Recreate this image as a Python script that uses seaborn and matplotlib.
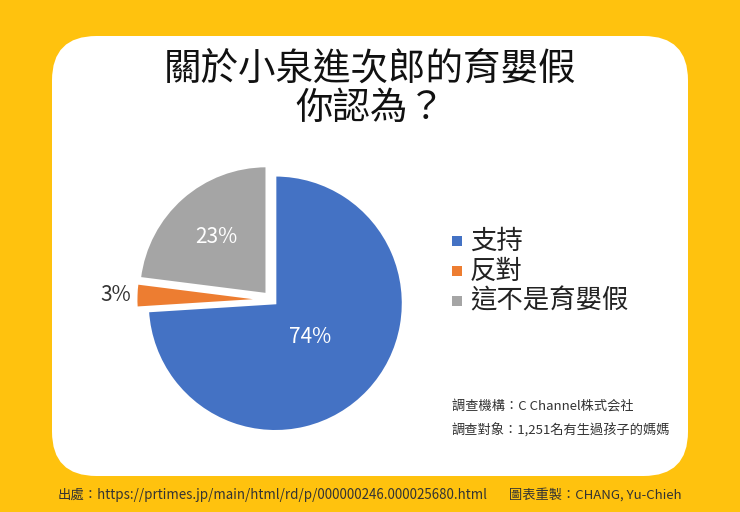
import matplotlib
matplotlib.use("Agg")
import matplotlib.pyplot as plt
import seaborn as sns
import numpy as np
from matplotlib.patches import FancyBboxPatch

sns.set_theme(style="white")
plt.rcParams['font.family'] = ['Noto Sans CJK TC', 'DejaVu Sans']

categories = ["支持", "反對", "這不是育嬰假"]
values = [74, 3, 23]
colors = ["#4472C4", "#ED7D31", "#A5A5A5"]

fig = plt.figure(figsize=(7.4, 5.12), dpi=100)
fig.patch.set_facecolor("#FFC20E")
bg = FancyBboxPatch((52/740, 36/512), 636/740, 440/512,
                    boxstyle="round,pad=0,rounding_size=0.06",
                    transform=fig.transFigure, facecolor="white", edgecolor="none",
                    mutation_aspect=740/512, zorder=-10)
fig.patches.append(bg)

fig.text(0.5, 1-69/512, "關於小泉進次郎的育嬰假", ha="center", va="center", fontsize=27, color="#111111")
fig.text(0.5, 1-108/512, "你認為？", ha="center", va="center", fontsize=27, color="#111111")

ax = fig.add_axes([0.174, 0.135, 0.386, 0.559])
ax.patch.set_visible(False)
wedges, texts, autotexts = ax.pie(values, colors=colors, startangle=90, counterclock=False,
                                  explode=[0.04, 0.06, 0.06], autopct="%d%%", pctdistance=0.6,
                                  wedgeprops=dict(edgecolor="white", linewidth=1.5),
                                  textprops=dict(fontsize=15, color="white"))
ax.set_xlim(-1.12, 1.12); ax.set_ylim(-1.12, 1.12)
ax.set_aspect("auto")
for i, r in [(0, 0.42), (1, 1.22)]:
    w = wedges[i]
    ang = np.deg2rad((w.theta1 + w.theta2) / 2)
    autotexts[i].set_position((r*np.cos(ang), r*np.sin(ang)))
autotexts[1].set_color("#333333")

for i, (c, col) in enumerate(zip(categories, colors)):
    y = 1 - (241 + 30*i)/512
    fig.patches.append(plt.Rectangle((452/740, y-5/512), 10/740, 10/512, transform=fig.transFigure,
                                     facecolor=col, edgecolor="none"))
    fig.text(470/740, y, c, ha="left", va="center", fontsize=19, color="#222222")

fig.text(452/740, 1-407/512, "調查機構：C Channel株式会社", fontsize=9.5, va="center", color="#333333")
fig.text(452/740, 1-430/512, "調查對象：1,251名有生過孩子的媽媽", fontsize=9.5, va="center", color="#333333")
fig.text(58/740, 1-495/512, "出處：https://prtimes.jp/main/html/rd/p/000000246.000025680.html", fontsize=9.6, va="center", color="#333333")
fig.text(682/740, 1-495/512, "圖表重製：CHANG, Yu-Chieh", fontsize=9.5, va="center", ha="right", color="#333333")

fig.savefig("out.png", dpi=100, facecolor=fig.get_facecolor())
